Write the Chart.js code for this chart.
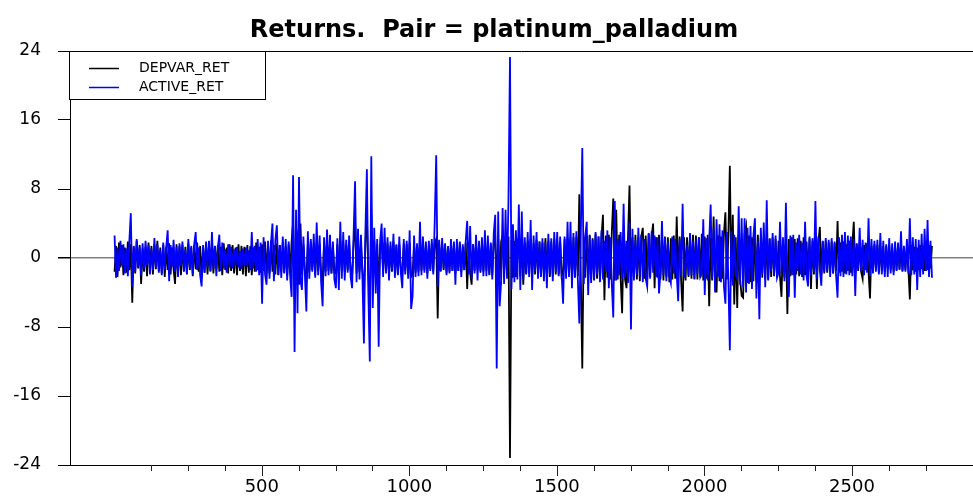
<!DOCTYPE html>
<html>
<head>
<meta charset="utf-8">
<script src="https://cdn.jsdelivr.net/npm/chart.js@4.4.0/dist/chart.umd.min.js"></script>
<style>
  html, body { margin: 0; padding: 0; background: #fff; }
</style>
</head>
<body>
<canvas id="chart" width="973" height="500"></canvas>
<script>
const TITLE = 'Returns.  Pair = platinum_palladium';

// observation numbers: every 5th return starting at obs 1
const FIRST_OBS = 1;
const OBS_STEP = 5;

const depvarRet = [
  -1.6, 1.4, -2.2, 1.8, -1.1, 1.5, -2.0, 1.2, -1.7, 1.9,
  -1.4, 1.6, -5.2, 1.3, -1.8, 2.0, -1.2, 1.5, -3.0, 1.1,
  -1.6, 1.3, -2.1, 1.8, -1.2, 1.4, -1.9, 1.6, -1.3, 2.0,
  -1.5, 1.2, -1.8, 1.5, -2.2, 1.3, -1.4, 1.7, -1.9, 1.2,
  -1.3, -3.0, 1.6, -1.8, 1.4, -2.0, 1.5, -1.6, 1.3, -1.9,
  1.7, -1.4, 1.2, -2.1, 1.5, -1.3, 1.8, -1.6, 1.4, -2.4,
  1.3, -1.7, 1.5, -1.9, 1.2, -1.5, 1.6, -1.8, 1.4, -1.3,
  1.5, -1.6, 1.3, -2.0, 1.7, -1.4, 1.2, -1.8, 1.6, -1.5,
  1.5, -1.8, 1.2, -2.0, 1.6, -1.5, 1.4, -1.9, 1.3, -2.1,
  1.5, -1.7, 1.4, -2.0, 1.2, -1.6, 1.8, -1.4, 1.3, -1.7,
  1.6, -1.5, 1.9, -1.7, 1.4, -1.8, 2.0, -1.6, 1.5, -1.9,
  1.7, -2.0, 1.5, -1.6, 1.8, -1.7, 1.4, -2.1, 1.6, -1.8,
  1.9, 4.2, -4.8, 1.7, 2.6, -3.1, 4.0, -1.9, 1.6, -1.5,
  -2.8, 1.8, -1.6, 1.9, -1.4, 1.7, -2.0, 1.8, -1.5, 1.6,
  -1.9, -2.6, 1.7, -1.6, 1.9, -1.5, 1.6, -1.8, 1.4, -1.7,
  -1.8, 1.6, -1.7, 1.9, -1.5, 1.8, -1.6, 1.5, -1.4, 1.7,
  -1.5, -1.9, 1.6, 4.5, -1.8, 1.9, -1.6, 1.7, -1.5, -4.6,
  1.8, 5.1, -2.0, -5.8, 5.2, -2.4, 2.0, -1.9, 1.6, -3.8,
  1.5, 2.0, -1.6, 1.8, -1.5, 1.7, -1.8, 1.4, -1.6, 1.9,
  -1.7, 1.5, -1.9, 1.6, -1.4, -1.8, 1.7, -1.5, 1.6, -1.9,
  1.8, -2.2, -2.0, 1.6, -1.7, 1.5, -1.6, 1.9, -1.5, 1.7,
  -1.4, 1.6, -1.8, 1.5, -1.3, 1.7, -1.6, 1.8, 2.2, -7.0,
  1.6, -1.5, 1.8, -1.4, 1.5, -1.7, 1.3, -1.6, 1.7, -1.5,
  1.6, -1.8, 1.4, -1.5, 1.7, -1.6, 1.3, -1.4, 1.8, -3.6,
  1.5, -1.7, -3.1, 1.6, -1.5, 1.8, -1.4, 1.6, -1.7, 1.5,
  -1.6, 1.8, -1.5, 1.7, -1.9, 1.6, -2.0, 1.8, 2.4, -3.0,
  2.2, -2.4, 1.9, 2.6, -2.1, 2.3, -2.0, 2.5, -23.2, 2.1,
  -2.3, 2.0, -2.2, 1.9, 2.4, -2.1, 2.2, -3.1, 1.8, -1.9,
  2.0, -1.8, 2.2, -2.0, 1.7, -1.9, 2.1, -1.7, 1.9, -2.1,
  1.8, -2.0, 2.3, -1.8, 2.0, -2.2, 1.9, -2.1, 2.2, -1.9,
  2.0, -1.9, 1.8, -2.1, -1.7, 2.2, -2.0, 2.3, -1.8, 2.1,
  -2.2, 2.4, -2.3, 2.5, -2.1, 7.4, -2.4, -12.8, 2.5, -2.3,
  2.6, -2.2, 2.7, -2.5, 2.3, -2.6, 2.8, -2.4, 2.5, -2.7,
  2.4, 5.0, -4.9, 2.6, -2.3, 2.7, -2.5, 2.9, 6.9, -2.6,
  5.6, -2.5, 2.7, -2.4, -6.4, 2.6, -2.5, -3.5, 2.5, 8.4,
  -2.6, 2.4, -2.3, 2.7, -2.5, 2.4, -2.7, 2.5, 3.5, -2.4,
  2.6, -2.5, 2.8, -2.2, 2.5, 4.0, -3.5, 2.4, -2.3, 2.7,
  -2.5, 2.4, -2.6, 2.5, -2.2, 2.4, -2.8, 2.3, -2.5, 2.6,
  -2.4, 4.8, -2.3, 2.5, -2.7, -6.2, 2.4, -2.6, 2.4, -2.2,
  2.5, -2.4, 2.7, -2.4, 2.6, -2.5, 2.4, -2.3, 2.8, -2.6,
  2.5, -2.4, 2.7, -5.6, 2.4, -2.6, 4.8, -2.5, -4.0, 2.6,
  -2.7, 2.5, -2.4, 2.8, 5.3, -2.5, 2.6, 10.7, -2.4, 5.0,
  -5.4, 2.4, -5.8, 2.7, -2.6, -4.4, -4.6, 2.8, 3.7, -2.9,
  2.6, -2.8, 2.4, -2.7, 2.5, -2.6, 2.7, -2.4, 2.6, -2.3,
  2.4, -2.5, 2.2, -2.5, 2.3, -2.2, 2.4, -2.1, 2.2, -2.3,
  2.0, -2.2, -4.5, 2.1, -2.3, 2.4, -6.5, 2.2, -2.1, 2.4,
  -2.0, 2.2, -1.9, 2.3, -2.1, 2.0, -2.2, 2.4, -2.0, 1.9,
  -2.1, 2.3, -3.6, 2.0, -1.9, 2.1, -3.6, 1.8, 3.6, -2.0,
  1.9, -1.8, 2.0, -1.7, 1.8, -1.6, 1.9, -1.8, 1.7, -1.5,
  4.3, -1.7, 1.8, -1.6, 1.9, -1.8, 1.6, -1.5, 2.0, -1.7,
  1.6, 4.2, -1.8, 1.7, -1.5, 1.8, -1.6, -2.4, 1.5, -1.4,
  1.7, -1.6, -4.7, 1.4, -1.5, 1.6, -1.3, 1.5, -1.7, 1.4,
  -1.5, 1.3, -1.6, 1.4, -1.2, 1.5, -1.4, 1.3, -1.6, 1.2,
  -1.4, 1.5, -1.3, 1.4, -1.5, 1.2, -1.4, 1.3, -1.2, -4.8,
  1.5, -1.4, 1.3, -1.6, 1.2, -1.4, 1.5, -1.3, 1.4, -1.5,
  1.3, -1.4, 1.5, -1.2, 1.4
];

const activeRet = [
  2.6, -2.3, 1.2, -1.5, 2.0, -0.9, 1.6, -1.8, 1.1, -2.1,
  1.9, 5.2, -3.3, 1.4, -1.6, 2.2, -1.0, 1.3, -2.0, 1.7,
  -1.2, 2.0, -0.8, 1.5, -1.9, 1.1, -1.4, 2.3, -1.1, 1.6,
  -1.7, 0.9, -2.0, 1.8, -1.3, 1.2, 3.2, -2.7, 1.5, -1.0,
  2.1, -1.6, 1.3, -2.2, 1.7, -0.9, 1.9, -1.5, 1.0, -1.8,
  2.2, -1.2, 1.4, -1.9, 1.6, 3.0, -1.4, 1.2, -2.0, -3.3,
  1.5, -1.7, 1.9, -1.1, 2.0, -1.6, 3.0, -1.3, 1.4, -2.1,
  1.2, 2.7, -1.5, 1.8, -1.2, 1.0, -1.7, 1.6, -1.1, 1.3,
  -1.2, 1.0, -0.9, 1.3, -1.1, 0.8, -1.3, 1.1, -0.9, 1.2,
  -1.0, 0.9, -1.4, 3.0, -1.2, 1.4, -1.6, 2.2, -2.0, 1.8,
  -5.3, 2.4, -1.9, -3.1, 2.0, -2.4, 1.7, 4.0, -2.7, 2.1,
  3.8, -1.9, 1.5, -2.3, 2.5, -1.8, 2.2, -2.6, 1.9, -2.1,
  -4.5, 9.6, -10.9, 5.6, -6.4, 9.4, -2.6, -3.7, 2.5, -2.0,
  -6.2, 3.1, -2.4, 2.2, -1.6, 2.8, -2.3, 4.1, -2.0, 2.6,
  -2.8, -5.6, 2.4, -2.1, 3.3, -2.0, 2.7, -1.8, 1.9, -2.5,
  -3.5, 2.3, -3.7, 4.2, -2.4, 3.0, -2.6, 2.1, -1.7, 2.6,
  -2.2, -3.5, 2.7, 8.9, -2.8, 3.4, -2.5, 2.7, -2.3, -9.9,
  3.0, 10.3, -4.0, -12.0, 11.8, -5.8, 3.5, -4.1, 2.2, -10.3,
  2.0, 4.0, -2.2, 3.5, -1.8, 2.4, -2.6, 1.9, -1.4, 2.8,
  -2.3, 1.6, -2.0, 2.5, -1.7, -3.5, 2.2, -1.9, 2.0, -2.4,
  3.2, -5.9, -4.4, 2.6, -2.2, 1.7, -2.1, 4.2, -2.0, 2.5,
  -1.7, 1.9, -2.4, 2.0, -1.5, 2.2, -1.9, 4.3, 11.9, -3.3,
  2.1, -1.6, 2.3, -1.2, 1.7, -2.0, 1.4, -1.8, 2.2, -1.5,
  1.9, -3.1, 2.2, -1.5, 1.9, -2.2, 1.6, -1.4, 2.0, 4.3,
  -1.9, 3.7, -2.4, 1.6, -1.8, 2.7, -2.6, 2.0, -1.5, 2.4,
  -2.1, 3.2, -2.1, 2.6, -2.0, 1.8, -2.5, 2.9, 5.0, -12.8,
  5.4, -5.6, -2.8, 5.8, -3.0, 5.6, -2.4, 7.1, 23.3, -3.6,
  3.9, -2.8, 3.2, -2.5, 6.2, -3.7, 5.4, -2.5, 2.4, -1.8,
  3.0, -2.2, 4.4, -3.7, 2.6, -1.5, 3.0, -2.4, 1.9, -2.2,
  2.3, -2.7, 1.8, -3.5, 2.8, -1.9, 2.3, -2.7, 3.0, -1.6,
  3.0, -2.1, 2.5, -1.9, -5.3, 2.5, -2.4, 4.2, -2.2, 4.2,
  -3.5, 2.9, -2.2, 3.1, -2.6, -7.6, 2.8, 12.75, -3.0, 2.5,
  4.2, -4.3, 2.6, -2.9, 2.1, -2.4, 3.0, -1.9, 2.5, -2.8,
  3.2, -2.5, 2.0, -1.6, 3.2, -3.5, 2.4, -3.0, -6.9, 6.6,
  -2.6, 2.2, -2.0, 3.0, -2.4, 6.3, -2.2, 2.0, -2.9, 4.2,
  -8.3, 3.4, -2.6, 2.1, -1.9, 3.5, -2.1, 2.7, -2.8, 2.2,
  -2.4, -3.3, 2.9, -2.4, 3.1, -1.7, 2.6, -2.2, 2.4, -4.1,
  -1.6, 4.3, -2.0, 2.4, -2.7, 1.9, -2.2, -2.9, 2.5, -1.8,
  2.2, -1.9, -5.0, 2.2, -2.0, 6.3, -2.3, -1.2, 1.5, -2.0,
  2.9, -2.0, 2.0, -2.5, 2.1, -1.9, 2.4, -2.2, -1.8, 4.5,
  -4.3, 2.3, -2.6, 2.0, 6.2, -2.4, 3.5, -4.0, 4.5, -2.2,
  3.9, -2.8, 3.2, -3.3, -5.3, 3.0, -2.5, -10.7, 3.1, -3.2,
  2.7, -2.0, -2.4, 6.0, -3.1, 4.6, -3.4, 4.6, -4.0, 3.5,
  -3.0, 3.7, -3.6, 2.6, 4.6, -4.7, 2.0, -7.1, 3.5, -1.8,
  4.1, -3.4, 6.7, -2.6, 2.2, -1.5, 2.9, -2.0, 2.6, -2.3,
  -1.7, 4.2, -1.8, 2.4, -2.7, 6.4, -2.2, -4.5, 2.6, -2.0,
  2.7, -4.6, 1.8, -1.5, 2.7, -1.9, 1.8, -2.6, 4.2, -2.1,
  -3.3, 2.5, -2.0, 2.3, -1.6, 6.6, -2.4, 2.5, -1.4, -3.2,
  2.0, -1.6, 2.3, -1.5, 2.1, -2.2, 2.3, -1.8, 1.9, -2.0,
  -4.6, 2.4, -2.1, 2.7, -2.2, 3.0, -1.9, 2.6, -2.0, 2.5,
  -2.1, 2.2, -4.4, 1.6, -1.2, 3.5, -1.6, 2.1, -2.0, 1.8,
  -1.7, 4.6, -2.1, 2.2, -1.8, 2.0, -1.6, 2.1, -1.9, 2.9,
  -1.9, 2.0, -2.2, 1.6, -2.2, 2.3, -1.8, 1.7, -2.0, 1.9,
  -1.5, 1.8, -1.4, 3.1, -1.6, 1.4, -1.6, 2.2, -1.8, 4.6,
  -2.0, 2.4, -1.9, 2.2, -3.7, 2.1, -2.2, 2.8, -1.9, 3.4,
  -1.5, 4.4, -2.2, 2.0, -2.3
];

const yTicks = [-24, -16, -8, 0, 8, 16, 24];
const xTicks = [125, 250, 375, 500, 625, 750, 875, 1000, 1125, 1250, 1375, 1500,
                1625, 1750, 1875, 2000, 2125, 2250, 2375, 2500, 2625, 2750];
const xLabelTicks = [500, 1000, 1500, 2000, 2500];

const toPoints = vals => vals.map((v, i) => ({ x: FIRST_OBS + i * OBS_STEP, y: v }));

const FONT = 'DejaVu Sans';

// top frame line, tick marks on the x axis, legend box and title
const decorations = {
  id: 'decorations',
  afterDraw(chart) {
    const { ctx, chartArea: area, scales: { x } } = chart;
    ctx.save();
    ctx.strokeStyle = '#000';
    ctx.lineWidth = 1;

    ctx.beginPath();
    ctx.moveTo(area.left, area.top + 0.5);
    ctx.lineTo(area.right, area.top + 0.5);
    ctx.stroke();

    ctx.strokeStyle = '#222';
    xTicks.forEach(v => {
      const px = Math.round(x.getPixelForValue(v)) + 0.5;
      const len = xLabelTicks.includes(v) ? 11 : 6;
      ctx.beginPath();
      ctx.moveTo(px, area.bottom);
      ctx.lineTo(px, area.bottom + len);
      ctx.stroke();
    });

    // legend
    ctx.fillStyle = '#fff';
    ctx.fillRect(69.5, 51.5, 196, 48);
    ctx.strokeStyle = '#000';
    ctx.strokeRect(69.5, 51.5, 196, 48);
    const rows = [['DEPVAR_RET', '#000000', 68.5], ['ACTIVE_RET', '#0000ff', 87.5]];
    ctx.font = `14px "${FONT}"`;
    ctx.textBaseline = 'middle';
    ctx.textAlign = 'left';
    rows.forEach(([label, color, y]) => {
      ctx.strokeStyle = color;
      ctx.lineWidth = 1.5;
      ctx.beginPath();
      ctx.moveTo(89, y);
      ctx.lineTo(119, y);
      ctx.stroke();
      ctx.fillStyle = '#000';
      ctx.fillText(label, 139, y);
    });

    ctx.font = `bold 24px "${FONT}"`;
    ctx.textAlign = 'center';
    ctx.textBaseline = 'alphabetic';
    ctx.fillStyle = '#000';
    ctx.fillText(TITLE, 494, 37);
    ctx.restore();
  }
};

const chart = new Chart(document.getElementById('chart').getContext('2d'), {
  type: 'line',
  data: {
    datasets: [
      {
        label: 'DEPVAR_RET',
        data: toPoints(depvarRet),
        borderColor: '#000000',
        borderWidth: 1.8,
        pointRadius: 0,
        tension: 0,
        order: 2,
      },
      {
        label: 'ACTIVE_RET',
        data: toPoints(activeRet),
        borderColor: '#0000ff',
        borderWidth: 1.8,
        pointRadius: 0,
        tension: 0,
        order: 1,
      },
    ],
  },
  options: {
    responsive: false,
    animation: false,
    devicePixelRatio: 1,
    parsing: false,
    layout: { padding: { top: 51, left: 0, right: 0, bottom: 0 } },
    plugins: {
      legend: { display: false },
      title: { display: false },
      tooltip: { enabled: false },
    },
    scales: {
      x: {
        type: 'linear',
        min: -150,
        max: 2910,
        afterBuildTicks: s => { s.ticks = xTicks.map(v => ({ value: v })); },
        afterFit: s => { s.height = 35; },
        ticks: {
          autoSkip: false,
          maxRotation: 0,
          padding: 12,
          color: '#000',
          font: { family: FONT, size: 18 },
          callback: v => xLabelTicks.includes(v) ? String(v) : '',
        },
        grid: { display: false, drawTicks: false },
        border: { display: true, color: '#000', width: 1 },
      },
      y: {
        type: 'linear',
        min: -24,
        max: 24,
        afterBuildTicks: s => { s.ticks = yTicks.map(v => ({ value: v })); },
        afterFit: s => { s.width = 70; },
        ticks: {
          padding: 17,
          color: '#000',
          font: { family: FONT, size: 17 },
        },
        grid: {
          color: c => (c.tick && c.tick.value === 0) ? '#808080' : 'rgba(0,0,0,0)',
          lineWidth: c => (c.tick && c.tick.value === 0) ? 1.5 : 1,
          tickColor: '#000',
          tickLength: 12,
        },
        border: { display: true, color: '#000', width: 1 },
      },
    },
  },
  plugins: [decorations],
});
</script>
</body>
</html>
